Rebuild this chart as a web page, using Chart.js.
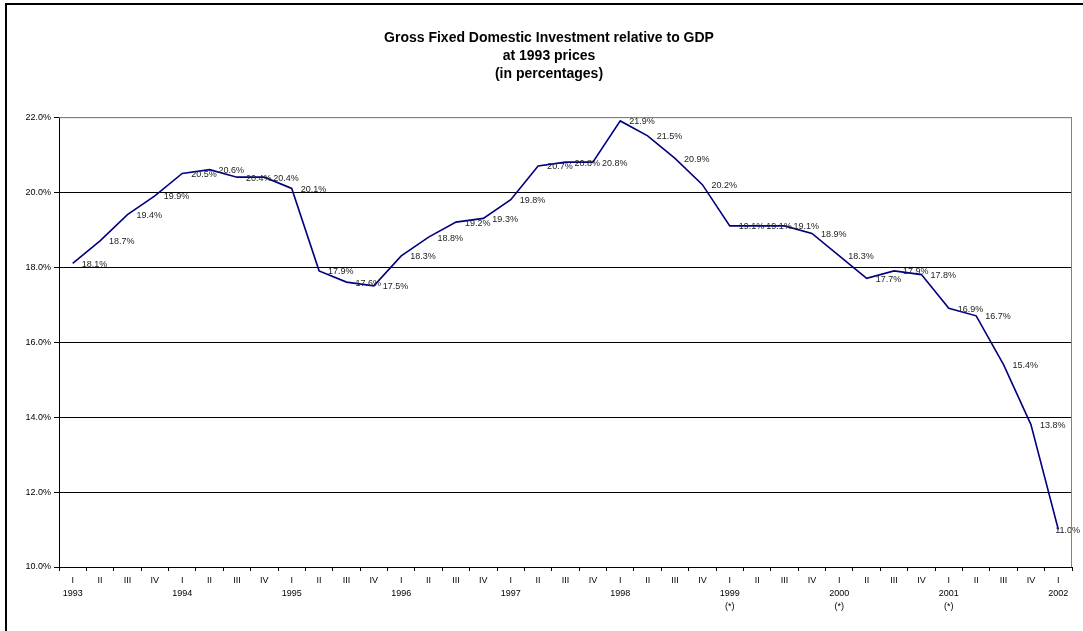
<!DOCTYPE html>
<html>
<head>
<meta charset="utf-8">
<title>Gross Fixed Domestic Investment relative to GDP</title>
<script src="https://cdn.jsdelivr.net/npm/chart.js@4/dist/chart.umd.min.js"></script>
<style>
  html, body { margin: 0; padding: 0; background: #fff; }
  #wrap { width: 1083px; height: 631px; }
</style>
</head>
<body>
<div id="wrap"><canvas id="myChart" width="1083" height="631"></canvas></div>
<script>
// quarters 1993 I .. 2002 I
const quarterNames = ['I', 'II', 'III', 'IV'];
const years = ['1993', '1994', '1995', '1996', '1997', '1998', '1999', '2000', '2001', '2002'];
const provisionalYears = ['1999', '2000', '2001'];
const values = [
  18.1, 18.7, 19.4, 19.9,
  20.5, 20.6, 20.4, 20.4,
  20.1, 17.9, 17.6, 17.5,
  18.3, 18.8, 19.2, 19.3,
  19.8, 20.7, 20.8, 20.8,
  21.9, 21.5, 20.9, 20.2,
  19.1, 19.1, 19.1, 18.9,
  18.3, 17.7, 17.9, 17.8,
  16.9, 16.7, 15.4, 13.8,
  11.0
];
const titleLines = ['Gross Fixed Domestic Investment relative to GDP', 'at 1993 prices', '(in percentages)'];

const labels = values.map((v, i) => {
  const q = quarterNames[i % 4];
  if (i % 4 !== 0) return q;
  const y = years[i / 4];
  const lines = [q, y];
  if (provisionalYears.includes(y)) lines.push('(*)');
  return lines;
});

// outer frame + plot border (top and right are grey)
const frame = {
  id: 'frame',
  beforeDraw(chart) {
    const ctx = chart.ctx;
    ctx.save();
    ctx.fillStyle = '#fff';
    ctx.fillRect(0, 0, chart.width, chart.height);
    ctx.fillStyle = '#000';
    ctx.fillRect(5, 3, chart.width, 2);
    ctx.fillRect(5, 3, 2, chart.height);
    ctx.restore();
  },
  afterDraw(chart) {
    const a = chart.chartArea;
    const ctx = chart.ctx;
    ctx.save();
    ctx.strokeStyle = '#808080';
    ctx.lineWidth = 1;
    ctx.beginPath();
    ctx.moveTo(a.left, a.top + 0.5);
    ctx.lineTo(a.right - 0.5, a.top + 0.5);
    ctx.lineTo(a.right - 0.5, a.bottom);
    ctx.stroke();
    ctx.restore();
  }
};

// value labels to the right of each point
const pointLabels = {
  id: 'pointLabels',
  afterDatasetsDraw(chart) {
    const ctx = chart.ctx;
    const meta = chart.getDatasetMeta(0);
    ctx.save();
    ctx.font = '9px "Liberation Sans", Arial, sans-serif';
    ctx.fillStyle = '#222';
    ctx.textAlign = 'left';
    ctx.textBaseline = 'middle';
    meta.data.forEach((pt, i) => {
      const txt = values[i].toFixed(1) + '%';
      const w = ctx.measureText(txt).width;
      let x = pt.x + 9;
      if (x + w > chart.width - 3) x = chart.width - 3 - w;
      ctx.fillText(txt, x, pt.y + 1);
    });
    ctx.restore();
  }
};

const config = {
  type: 'line',
  data: {
    labels,
    datasets: [{
      label: 'Investment / GDP',
      data: values,
      borderColor: '#000080',
      borderWidth: 1.6,
      pointRadius: 0,
      tension: 0,
      fill: false
    }]
  },
  options: {
    responsive: false,
    animation: false,
    layout: { padding: { left: 26, right: 11, top: 0, bottom: 10 } },
    plugins: {
      legend: { display: false },
      tooltip: { enabled: false },
      title: {
        display: true,
        text: titleLines,
        color: '#000',
        font: { family: '"Liberation Sans", Arial, sans-serif', size: 14, weight: 'bold', lineHeight: 1.29 },
        padding: { top: 29, bottom: 34 }
      }
    },
    scales: {
      x: {
        offset: true,
        grid: { offset: true, drawOnChartArea: false, tickLength: 4, tickColor: '#000' },
        border: { color: '#000', width: 1 },
        ticks: {
          autoSkip: false,
          maxRotation: 0,
          padding: 3,
          color: '#000',
          font: { family: '"Liberation Sans", Arial, sans-serif', size: 9, lineHeight: 1.45 }
        },
        afterFit(scale) { scale.height = 54; }
      },
      y: {
        min: 10,
        max: 22,
        ticks: {
          stepSize: 2,
          padding: 3,
          color: '#000',
          font: { family: '"Liberation Sans", Arial, sans-serif', size: 9 },
          callback: (v) => Number(v).toFixed(1) + '%'
        },
        grid: {
          color: (c) => (c.tick && c.tick.value === 22 ? '#808080' : '#000'),
          tickColor: '#000',
          tickLength: 5,
          lineWidth: 1
        },
        border: { color: '#000', width: 1 },
        afterFit(scale) { scale.width = 33; }
      }
    }
  },
  plugins: [frame, pointLabels]
};

new Chart(document.getElementById('myChart'), config);
</script>
</body>
</html>
